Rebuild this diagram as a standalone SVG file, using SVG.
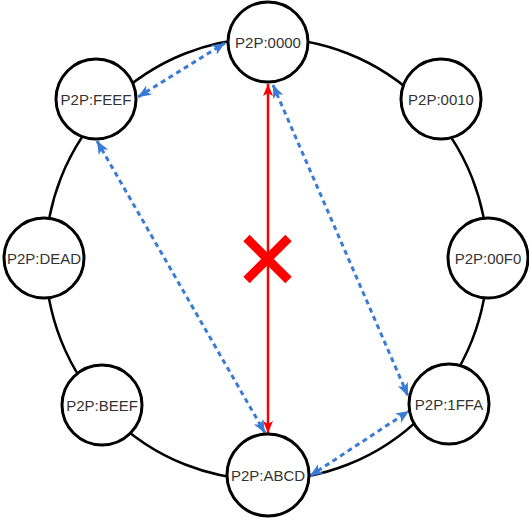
<svg xmlns="http://www.w3.org/2000/svg" width="529" height="520" viewBox="0 0 529 520">
  <style>
    .ring { fill: none; stroke: #000; stroke-width: 2.5; }
    .node circle { fill: #fff; stroke: #000; stroke-width: 3; }
    .node text { font-family: "Liberation Sans", Arial, sans-serif; font-size: 15px; fill: #333; text-anchor: middle; dominant-baseline: central; }
    .blue { stroke: #3a7bd5; stroke-width: 3; stroke-dasharray: 5 4; fill: none; marker-start: url(#ab); marker-end: url(#ab); }
    .red { stroke: #ff0000; stroke-width: 2.5; fill: none; marker-start: url(#ar); marker-end: url(#ar); }
  </style>
  <defs>
    <marker id="ab" viewBox="0 0 10 10" refX="10" refY="5" markerWidth="13" markerHeight="13" markerUnits="userSpaceOnUse" orient="auto-start-reverse">
      <path d="M0,0.8 L10,5 L0,9.2 L2.5,5 z" fill="#3a7bd5"/>
    </marker>
    <marker id="ar" viewBox="0 0 10 10" refX="10" refY="5" markerWidth="12" markerHeight="12" markerUnits="userSpaceOnUse" orient="auto-start-reverse">
      <path d="M0,0.8 L10,5 L0,9.2 L2.5,5 z" fill="#ff0000"/>
    </marker>
  </defs>
  <circle class="ring" cx="266.5" cy="259" r="221"/>
  <g id="connectors">
    <line class="red" x1="268" y1="84" x2="268" y2="433"/>
    <path d="M246.5,238 L288.5,280 M288.5,238 L246.5,280" stroke="#ff0000" stroke-width="9" fill="none"/>
    <line class="blue" x1="138" y1="97" x2="225" y2="43"/>
    <line class="blue" x1="97" y1="141" x2="265" y2="433"/>
    <line class="blue" x1="273" y1="85" x2="408" y2="396"/>
    <line class="blue" x1="310" y1="476" x2="409" y2="411"/>
  </g>
  <g id="n0000" class="node"><circle cx="268" cy="42" r="40"/><text x="268" y="42">P2P:0000</text></g>
  <g id="n0010" class="node"><circle cx="441" cy="99" r="40"/><text x="441" y="99">P2P:0010</text></g>
  <g id="n00F0" class="node"><circle cx="488" cy="258" r="40"/><text x="488" y="258">P2P:00F0</text></g>
  <g id="n1FFA" class="node"><circle cx="449" cy="404" r="40"/><text x="449" y="404">P2P:1FFA</text></g>
  <g id="nABCD" class="node"><circle cx="268" cy="475" r="41"/><text x="268" y="475">P2P:ABCD</text></g>
  <g id="nBEEF" class="node"><circle cx="102" cy="405" r="40"/><text x="102" y="405">P2P:BEEF</text></g>
  <g id="nDEAD" class="node"><circle cx="44" cy="258" r="40"/><text x="44" y="258">P2P:DEAD</text></g>
  <g id="nFEEF" class="node"><circle cx="96" cy="99" r="40"/><text x="96" y="99">P2P:FEEF</text></g>
</svg>
